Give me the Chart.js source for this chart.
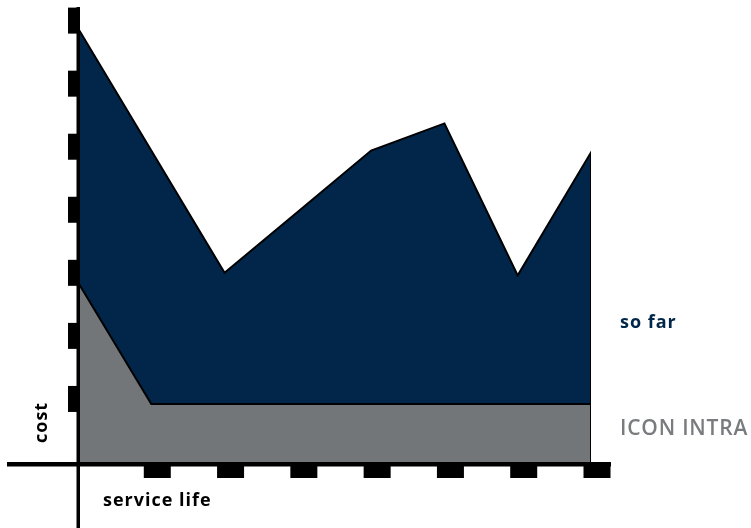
<!DOCTYPE html>
<html>
<head>
<meta charset="utf-8">
<script src="https://cdn.jsdelivr.net/npm/chart.js@4/dist/chart.umd.min.js"></script>
<style>
  html, body { margin: 0; padding: 0; background: #fff; }
  #wrap { width: 751px; height: 528px; }
</style>
</head>
<body>
<div id="wrap"><canvas id="costChart" width="751" height="528"></canvas></div>
<script>
// service life steps and cost values
const lifeSteps = [0, 1, 2, 3, 4, 5, 6, 7];
const soFarCost = [6.88, 4.94, 3.0, 3.97, 4.94, 5.37, 2.96, 4.91];
const iconIntraCost = [2.85, 0.92, 0.92, 0.92, 0.92, 0.92, 0.92, 0.92];
const xTickValues = [1, 2, 3, 4, 5, 6, 7];
const yTickValues = [1, 2, 3, 4, 5, 6, 7];

const NAVY = "#02264a";
const GREY = "#737679";

// series as points, closed down to the axis at the last step
function toPoints(values) {
  const pts = lifeSteps.map((x, i) => ({ x: x, y: values[i] }));
  pts.push({ x: lifeSteps[lifeSteps.length - 1], y: 0 });
  return pts;
}

// axes with block ticks and the texts round the plot
const axesPlugin = {
  id: "axesPlugin",
  afterDraw(chart) {
    const ctx = chart.ctx;
    const xs = chart.scales.x;
    const ys = chart.scales.y;
    const x0 = xs.getPixelForValue(0);
    const y0 = ys.getPixelForValue(0);

    ctx.save();
    ctx.fillStyle = "#000";

    // y axis line, running past the x axis to the bottom
    ctx.fillRect(x0 - 1.5, 7, 3.5, chart.height - 7);
    // x axis line, running past the y axis to the left
    ctx.fillRect(7, y0, 604, 4.5);

    // block ticks on the y axis
    yTickValues.forEach((v) => {
      const py = ys.getPixelForValue(v);
      ctx.fillRect(x0 - 10, py - 13, 10, 26);
    });
    // block ticks under the x axis
    xTickValues.forEach((v) => {
      const px = xs.getPixelForValue(v) + 6;
      ctx.fillRect(px - 13.5, y0 + 4, 27, 12);
    });

    // axis names
    ctx.font = "bold 18px 'Open Sans'";
    ctx.letterSpacing = "1px";
    ctx.textBaseline = "alphabetic";
    ctx.textAlign = "left";
    ctx.fillText("service life", 103, 506);
    ctx.save();
    ctx.translate(47, 443);
    ctx.rotate(-Math.PI / 2);
    ctx.fillText("cost", 0, 0);
    ctx.restore();

    // series names
    ctx.fillStyle = NAVY;
    ctx.fillText("so far", 620, 328);
    ctx.fillStyle = "#797b7e";
    ctx.font = "600 21px 'Open Sans'";
    ctx.letterSpacing = "0.8px";
    ctx.fillText("ICON INTRA", 620, 435);
    ctx.restore();
  },
};

const costContext = document.getElementById("costChart").getContext("2d");
const costChart = new Chart(costContext, {
  type: "line",
  data: {
    datasets: [
      {
        label: "ICON INTRA",
        data: toPoints(iconIntraCost),
        backgroundColor: GREY,
        borderColor: "#000",
        borderWidth: 2,
        fill: "origin",
        tension: 0,
        pointRadius: 0,
      },
      {
        label: "so far",
        data: toPoints(soFarCost),
        backgroundColor: NAVY,
        borderColor: "#000",
        borderWidth: 2,
        fill: "origin",
        tension: 0,
        pointRadius: 0,
      },
    ],
  },
  options: {
    responsive: false,
    animation: false,
    layout: {
      padding: { left: 78, right: 160, top: 8, bottom: 66 },
    },
    plugins: {
      legend: { display: false },
      tooltip: { enabled: false },
    },
    scales: {
      x: { type: "linear", min: 0, max: 7, display: false },
      y: { min: 0, max: 7.2, display: false },
    },
  },
  plugins: [axesPlugin],
});
</script>
</body>
</html>
